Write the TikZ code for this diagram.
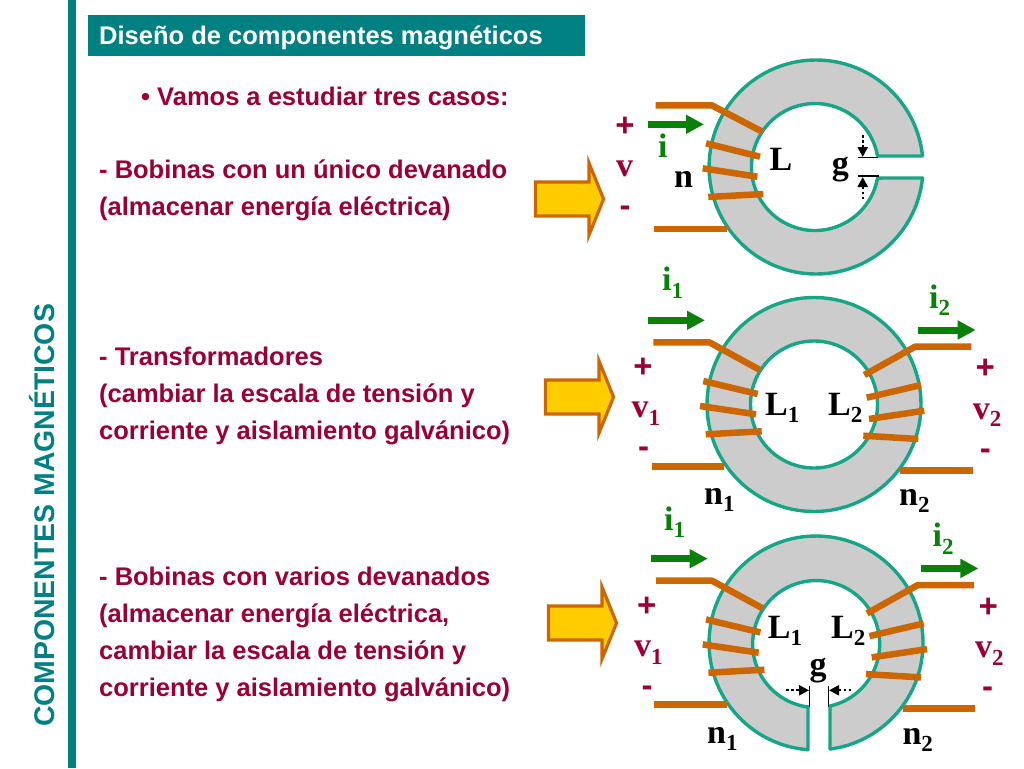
\documentclass[tikz,border=0pt]{standalone}
\usepackage{fontspec}
\setmainfont{Liberation Sans}
\newfontfamily\serifbf{Liberation Serif}[BoldFont={Liberation Serif Bold}]
\usetikzlibrary{arrows.meta}
\definecolor{tealbar}{HTML}{008080}
\definecolor{crimsontxt}{HTML}{990033}
\definecolor{ringedge}{HTML}{16A685}
\definecolor{ringfill}{HTML}{CCCCCC}
\definecolor{wirecol}{HTML}{CC6600}
\definecolor{greencol}{HTML}{0A800A}
\definecolor{arrowfill}{HTML}{FFCC00}
\tikzset{
  bodytxt/.style={anchor=base west,inner sep=0pt,text=crimsontxt,font=\fontsize{25.5}{25.5}\selectfont\bfseries},
  sym/.style={anchor=base west,inner sep=0pt,font=\serifbf\fontsize{34}{34}\selectfont\bfseries},
  blacksym/.style={sym,text=black},
  greensym/.style={sym,text=greencol},
  redsym/.style={sym,text=crimsontxt},
  sign/.style={inner sep=0pt,text=crimsontxt,font=\fontsize{33}{33}\selectfont\bfseries},
  core/.style={fill=ringfill,draw=ringedge,line width=3.4pt,line join=round},
  wire/.style={draw=wirecol,line width=6.5pt,line join=round},
  curarrow/.style={draw=greencol,line width=7pt,-{Triangle[length=18pt,width=18pt]}},
  bigarrow/.style={fill=arrowfill,draw=wirecol,line width=3.2pt,line join=miter},
  gapline/.style={draw=black,line width=1.6pt},
  gaparrow/.style={draw=black,line width=2.2pt,dash pattern=on 2.5pt off 2.5pt,-{Triangle[length=10pt,width=10pt]}},
}
\newcommand{\subs}[1]{\raisebox{-7.5pt}{\fontsize{23}{23}\selectfont #1}}
\newcommand{\bigarrowat}[2]{%
  \draw[bigarrow,shift={(#1,#2)}] (535.5,182)--(589,182)--(589,163)--(603.5,199)--(589,235)--(589,216)--(535.5,216)--cycle;}
\newcommand{\leftwires}{%
  \draw[wire] (653.3,342.3)--(709.3,342.3)--(760,370);
  \draw[wire] (703.3,381)--(757.7,394);
  \draw[wire] (700,406)--(756,414.3);
  \draw[wire] (705.7,434.3)--(761.7,431.3);
  \draw[wire] (651.7,466.3)--(724,466.3);
  \draw[wire] (971.3,346.7)--(915,346.7)--(864.3,375);
  \draw[wire] (921,385)--(866.7,397.7);
  \draw[wire] (924.3,410.7)--(869,419);
  \draw[wire] (918.3,439)--(863.3,435.7);
  \draw[wire] (900,470.3)--(972.7,470.3);
  \draw[curarrow] (648.3,320.3)--(705,320.3);
  \draw[curarrow] (918.3,330)--(975.7,330);}
\begin{document}
\begin{tikzpicture}[x=1pt,y=-1pt]
\useasboundingbox (0,0) rectangle (1024,768);
\fill[white] (0,0) rectangle (1024,768);
% frame
\fill[tealbar] (68,0) rectangle (76,768);
\fill[tealbar] (88,15) rectangle (585,56);
\node[bodytxt,text=white] (title) at (99,45) {Diseño de componentes magnéticos};
\node[rotate=90,anchor=base west,inner sep=0pt,text=tealbar,font=\fontsize{28.4}{28.4}\selectfont\bfseries] (side) at (54,727) {COMPONENTES MAGNÉTICOS};
% text
\node[bodytxt] (t0) at (141,105) {• Vamos a estudiar tres casos:};
\node[bodytxt] (t1) at (99,178) {- Bobinas con un único devanado};
\node[bodytxt] (t2) at (99,215) {(almacenar energía eléctrica)};
\node[bodytxt] (t3) at (99,365) {- Transformadores};
\node[bodytxt] (t4) at (99,402) {(cambiar la escala de tensión y};
\node[bodytxt] (t5) at (99,439) {corriente y aislamiento galvánico)};
\node[bodytxt] (t6) at (99,585) {- Bobinas con varios devanados};
\node[bodytxt] (t7) at (99,622) {(almacenar energía eléctrica,};
\node[bodytxt] (t8) at (99,659) {cambiar la escala de tensión y};
\node[bodytxt] (t9) at (99,696) {corriente y aislamiento galvánico)};
% big arrows
\bigarrowat{0}{0}
\bigarrowat{10}{198}
\bigarrowat{13}{424}
% ring 1: gap on the right
\draw[core] (922.5,156) -- (877.5,156)
   arc[start angle=-10,delta angle=-340,radius=63.5]
   -- (922.5,178)
   arc[start angle=5.9,delta angle=348.2,radius=107] -- cycle;
\draw[wire] (655.7,105.3)--(711.7,105.3)--(762.3,131.7);
\draw[wire] (706,143.3)--(760,156.7);
\draw[wire] (702.7,168.3)--(757.3,176.7);
\draw[wire] (708.3,197)--(763.3,194);
\draw[wire] (654,229)--(726.7,229);
\draw[curarrow] (648.3,124.3)--(704,124.3);
\draw[gapline] (858.3,157.3)--(878,157.3);
\draw[gapline] (858.3,175.7)--(879.3,175.7);
\draw[gaparrow] (862.7,135)--(862.7,157);
\draw[gaparrow] (862.7,199)--(862.7,177);
\node[sign] (p1) at (625,126.7) {+};
\node[greensym] (i1) at (658,157) {i};
\node[redsym] (v1) at (616,176.7) {v};
\node[sign] (m1) at (625,211) {-};
\node[blacksym] (n1) at (674,187) {n};
\node[blacksym] (L1) at (769.3,170.7) {L};
\node[blacksym] (g1) at (831.7,174) {g};
% ring 2
\draw[core,even odd rule] (814,404.5) circle[radius=107] (814,404.5) circle[radius=63.5];
\leftwires
\node[greensym] (i21) at (662,290.7) {i\subs{1}};
\node[sign] (p21) at (643,368) {+};
\node[redsym] (v21) at (631.5,417.7) {v\subs{1}};
\node[sign] (m21) at (643.7,452.7) {-};
\node[blacksym] (n21) at (704,504) {n\subs{1}};
\node[blacksym] (L21) at (765,415) {L\subs{1}};
\node[blacksym] (L22) at (828,415) {L\subs{2}};
\node[greensym] (i22) at (929,308) {i\subs{2}};
\node[sign] (p22) at (985.3,369.3) {+};
\node[redsym] (v22) at (972.7,419) {v\subs{2}};
\node[sign] (m22) at (985.3,454) {-};
\node[blacksym] (n22) at (899,505) {n\subs{2}};
% ring 3: gap at the bottom
\draw[core] (808,706.5) -- (808,749.7)
   arc[start angle=94.3,delta angle=348.1,radius=107] -- (830,749)
   -- (830,706) arc[start angle=77.4,delta angle=-340.2,radius=63.5] -- cycle;
\begin{scope}[shift={(2.7,238.4)}]
\leftwires
\end{scope}
\draw[gapline] (809.3,685.7)--(809.3,706.7);
\draw[gapline] (828.3,685.7)--(828.3,706.7);
\draw[gaparrow] (786,690.3)--(809,690.3);
\draw[gaparrow] (851,690.3)--(829,690.3);
\node[greensym] (i31) at (664,530) {i\subs{1}};
\node[sign] (p31) at (646.7,607.3) {+};
\node[redsym] (v31) at (634,656.7) {v\subs{1}};
\node[sign] (m31) at (647,691) {-};
\node[blacksym] (n31) at (707,743.3) {n\subs{1}};
\node[blacksym] (L31) at (767.7,638.3) {L\subs{1}};
\node[blacksym] (L32) at (831,638.3) {L\subs{2}};
\node[blacksym] (g3) at (809.5,675) {g};
\node[greensym] (i32) at (932.5,546.7) {i\subs{2}};
\node[sign] (p32) at (988.3,608.3) {+};
\node[redsym] (v32) at (975,657.7) {v\subs{2}};
\node[sign] (m32) at (987.7,692.3) {-};
\node[blacksym] (n32) at (902.3,744) {n\subs{2}};
\end{tikzpicture}
\end{document}
